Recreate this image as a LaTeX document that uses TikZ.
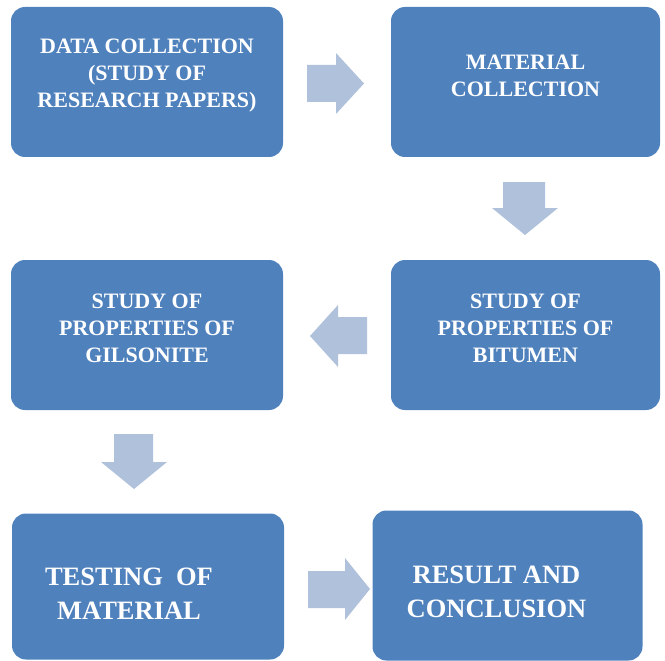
\documentclass[tikz,border=0pt]{standalone}
\usepackage{fontspec}
\setmainfont{Liberation Serif}
\definecolor{boxblue}{RGB}{79,129,189}
\definecolor{arrowblue}{RGB}{176,193,219}
\begin{document}
\begin{tikzpicture}[x=1pt,y=-1pt,
  box/.style={fill=boxblue,draw=none,rounded corners=14pt,inner sep=0pt},
  boxtext/.style={text=white,align=center,font=\bfseries\fontsize{22}{27}\selectfont,inner sep=0pt},
  bigtext/.style={text=white,align=center,font=\bfseries\fontsize{26.5}{34}\selectfont,inner sep=0pt},
  blockarrow/.style={fill=arrowblue,draw=none}]
\useasboundingbox (0,0) rectangle (665,661);
% boxes
\node[box,minimum width=272pt,minimum height=150pt] (b1) at (147,82) {};
\node[box,minimum width=269pt,minimum height=150pt] (b2) at (525.5,82) {};
\node[box,minimum width=272pt,minimum height=150pt] (b3) at (147,335) {};
\node[box,minimum width=269pt,minimum height=150pt] (b4) at (525.5,335) {};
\node[box,minimum width=272pt,minimum height=146pt] (b5) at (148,586.5) {};
\node[box,minimum width=270pt,minimum height=150pt] (b6) at (507.5,585.5) {};
% texts
\node[boxtext] (t1) at ([shift={(0,-6)}]b1.center) {DATA COLLECTION\\(STUDY OF\\RESEARCH PAPERS)};
\node[boxtext] (t2) at ([shift={(0,-6)}]b2.center) {MATERIAL\\COLLECTION};
\node[boxtext] (t3) at ([shift={(0,-6.5)}]b3.center) {STUDY OF\\PROPERTIES OF\\GILSONITE};
\node[boxtext] (t4) at ([shift={(0,-6.5)}]b4.center) {STUDY OF\\PROPERTIES OF\\BITUMEN};
\node[bigtext] (t5) at ([shift={(-19,7)}]b5.center) {TESTING~ OF\\MATERIAL};
\node[bigtext] (t6) at ([shift={(-11,6)}]b6.center) {RESULT AND\\CONCLUSION};
% block arrows
\fill[blockarrow] (307,65) -- (336,65) -- (336,53) -- (364,83.5) -- (336,114) -- (336,102) -- (307,102) -- cycle;
\fill[blockarrow] (503,182) -- (545,182) -- (545,208) -- (558,208) -- (525,235) -- (492,208) -- (503,208) -- cycle;
\fill[blockarrow] (367,317) -- (338,317) -- (338,305) -- (310,336) -- (338,367) -- (338,354) -- (367,354) -- cycle;
\fill[blockarrow] (114,434) -- (153,434) -- (153,462) -- (167,462) -- (134,489) -- (101,462) -- (114,462) -- cycle;
\fill[blockarrow] (308,571) -- (345,571) -- (345,558) -- (370,589) -- (345,620) -- (345,608) -- (308,608) -- cycle;
\end{tikzpicture}
\end{document}
